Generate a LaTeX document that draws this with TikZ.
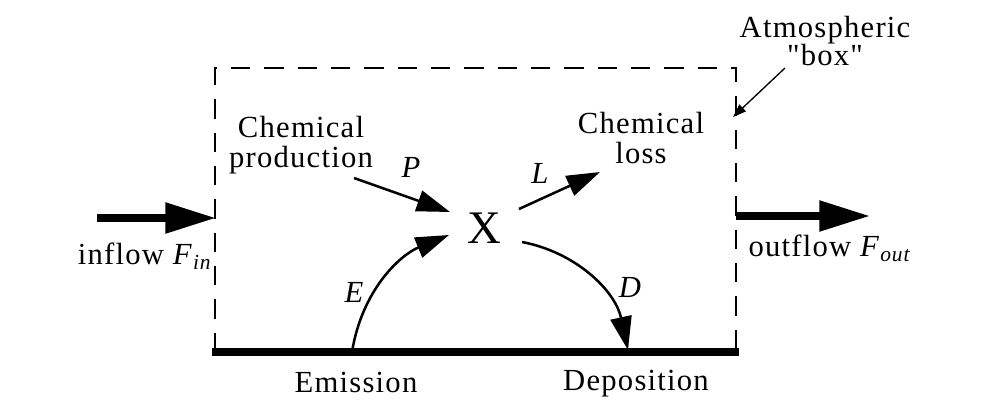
\documentclass[tikz,border=0pt]{standalone}
\usepackage{fontspec}
\setmainfont{Liberation Serif}[Ligatures=TeXOff, LetterSpace=4]
\usetikzlibrary{arrows.meta}
\begin{document}
\begin{tikzpicture}[x=0.75pt,y=-0.75pt,
  lbl/.style={font=\fontsize{23}{22.5}\selectfont, inner sep=0pt, align=center},
  ilbl/.style={font=\fontsize{23}{26}\selectfont\itshape, inner sep=0pt},
  flow/.style={line width=1.9pt, -{Triangle[length=25pt,width=16pt]}},
  bigflow/.style={line width=5.6pt, -{Triangle[length=38pt,width=22pt]}},
  thin/.style={line width=1pt, -{Triangle[length=10pt,width=7pt]}},
  boxline/.style={line width=2pt, dash pattern=on 14.5pt off 10.5pt}]
\useasboundingbox (0,0) rectangle (993,407);
% box
\draw[boxline] (215,352) -- (215,68) -- (736,68) -- (736,352);
\draw[line width=5.5pt] (212,352) -- (739,352);
% nodes
\node[lbl] (chp) at (301,145) {Chemical\\production};
\node[lbl] (chl) at (641,138) {Chemical\\loss};
\node[font=\fontsize{35}{38}\selectfont, inner sep=0pt] (X) at (484,228) {X};
\node[lbl, font=\fontsize{23}{21}\selectfont] (atm) at (825,41) {Atmospheric\\"box"};
\node[lbl] (emi) at (356,382) {Emission};
\node[lbl] (dep) at (636,384) {Deposition};
\node[ilbl] (P) at (411,167) {P};
\node[ilbl] (L) at (540,173) {L};
\node[ilbl] (E) at (354,292) {E};
\node[ilbl] (D) at (630,287) {D};
\node[lbl, anchor=center] (inf) at (145,256) {inflow \textit{F}\textsubscript{\textit{in}}};
\node[lbl, anchor=center] (outf) at (830,248) {outflow \textit{F}\textsubscript{\textit{out}}};
% coordinates
\coordinate (pS) at (354,178);
\coordinate (pT) at (450,212);
\coordinate (lS) at (519,209);
\coordinate (lT) at (600,172);
\coordinate (eS) at (352,352);
\coordinate (eT) at (449,235);
\coordinate (dS) at (522,242);
\coordinate (dT) at (628,350);
\coordinate (inS) at (97,218);
\coordinate (inT) at (216,218);
\coordinate (outS) at (736,216);
\coordinate (outT) at (870,216);
\coordinate (aS) at (785,68);
\coordinate (aT) at (733,117);
% arrows
\draw[flow] (pS) -- (pT);
\draw[flow] (lS) -- (lT);
\draw[flow] (eS) .. controls (362,290) and (400,255) .. (eT);
\draw[flow] (dS) .. controls (575,252) and (615,290) .. (dT);
\draw[bigflow] (inS) -- (inT);
\draw[bigflow] (outS) -- (outT);
\draw[thin] (aS) -- (aT);
\end{tikzpicture}
\end{document}
